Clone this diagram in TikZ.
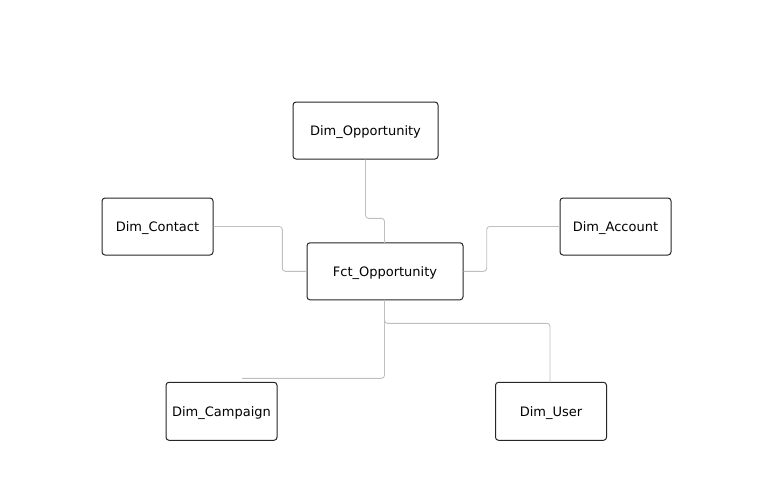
\documentclass[tikz,border=0pt]{standalone}
\usepackage{fontspec}
\setmainfont{DejaVu Sans}
\begin{document}
\begin{tikzpicture}[x=1pt,y=-1pt,
  tbl/.style={draw=black!85,line width=1pt,rounded corners=3pt,fill=white,inner sep=0pt,text height=10pt,text depth=0.6pt,font=\fontsize{13}{15}\selectfont},
  conn/.style={draw=black!25,line width=0.9pt,rounded corners=3pt}]
\useasboundingbox (0,0) rectangle (758,499);
\node[tbl,minimum width=145pt,minimum height=57pt] (opp) at (365.5,130.5) {Dim\_Opportunity};
\node[tbl,minimum width=111pt,minimum height=57pt] (con) at (157.5,226.5) {Dim\_Contact};
\node[tbl,minimum width=111pt,minimum height=57pt] (acc) at (615.5,226.5) {Dim\_Account};
\node[tbl,minimum width=156pt,minimum height=57pt] (fct) at (385,271.3) {Fct\_Opportunity};
\node[tbl,minimum width=111pt,minimum height=58pt] (cam) at (221.5,411.3) {Dim\_Campaign};
\node[tbl,minimum width=111pt,minimum height=58pt] (usr) at (551,411.3) {Dim\_User};
\coordinate (camend) at (242,378.3);
\draw[conn] (opp.south) -- (365.5,218.3) -- (384.5,218.3) -- (384.5,242.8);
\draw[conn] (con.east) -- (282.3,226.5) -- (282.3,271.3) -- (fct.west);
\draw[conn] (fct.east) -- (486.7,271.3) -- (486.7,226.5) -- (acc.west);
\draw[conn] (384.5,299.8) -- (384.5,378.3) -- (camend);
\draw[conn] (384.5,299.8) -- (384.5,323.3) -- (550,323.3) -- (550,382.3);
\end{tikzpicture}
\end{document}
